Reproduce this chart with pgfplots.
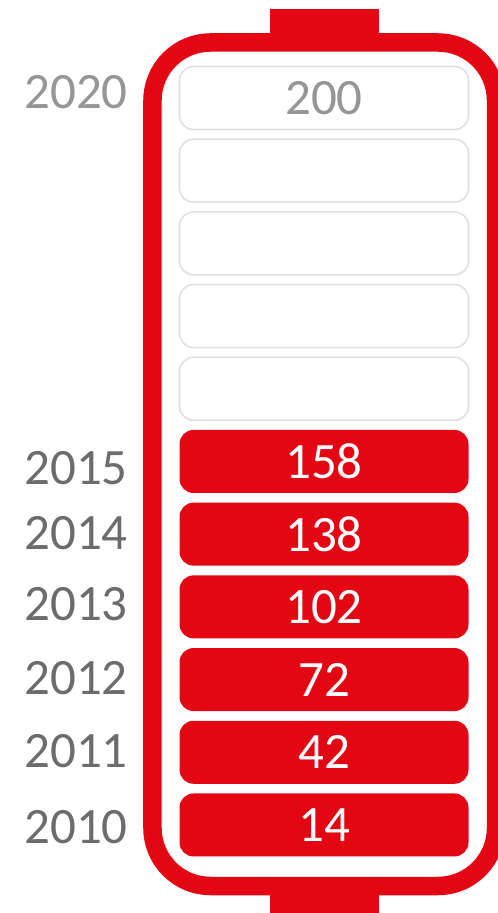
\documentclass[border=0pt]{standalone}
\usepackage{pgfplots}
\usepackage{pgfplotstable}
\pgfplotsset{compat=1.18}
\usepackage{fontspec}
\setmainfont{Carlito}
\definecolor{battred}{RGB}{227,6,19}
\definecolor{yeargray}{RGB}{108,108,108}
\definecolor{lightgrey}{RGB}{150,150,150}
\definecolor{cellborder}{RGB}{224,224,224}

\pgfplotstableread{
year x label
2010 324 14
2011 324 42
2012 324 72
2013 324 102
2014 324 138
2015 324 158
}\redcells

\pgfplotstableread{
year x label
2016 324 {}
2017 324 {}
2018 324 {}
2019 324 {}
2020 324 200
}\whitecells

\begin{document}
\begin{tikzpicture}
\path[use as bounding box] (0,0) rectangle (498bp,913bp);
\begin{axis}[
  at={(0,0)}, anchor=south west,
  scale only axis, width=498bp, height=913bp,
  xmin=0, xmax=498, ymin=2008.789, ymax=2021.348,
  hide x axis,
  axis y line*=left,
  y axis line style={draw=none},
  ytick style={draw=none},
  major tick length=0pt,
  ytick={2009.966,2011.018,2012.015,2013.040,2014.010,2014.904,2020.077},
  yticklabels={2010,2011,2012,2013,2014,2015,\textcolor{lightgrey}{2020}},
  yticklabel style={anchor=center, xshift=76bp, inner sep=0pt,
    font=\fontsize{51bp}{51bp}\selectfont, text=yeargray},
  clip=false,
  point meta=explicit symbolic,
]
% battery outline (decoration)
\draw[battred, line width=18.5bp, rounded corners=58bp]
  (rel axis cs:0.3062,0.95345) rectangle (rel axis cs:0.9960,0.02957);
\fill[battred] (rel axis cs:0.5422,0.99014) rectangle (rel axis cs:0.7610,0.95);
\fill[battred] (rel axis cs:0.5422,0) rectangle (rel axis cs:0.7610,0.035);

\addplot[only marks, mark=none,
  nodes near coords,
  every node near coord/.style={anchor=center, inner sep=0pt,
    minimum width=289bp, minimum height=63bp, rounded corners=14bp,
    fill=battred, text=white, font=\fontsize{51bp}{51bp}\selectfont}]
  table[x=x, y=year, meta=label] {\redcells};

\addplot[only marks, mark=none,
  nodes near coords,
  every node near coord/.style={anchor=center, inner sep=0pt,
    minimum width=289bp, minimum height=63bp, rounded corners=14bp,
    draw=cellborder, line width=1.6bp, fill=white, text=lightgrey,
    font=\fontsize{51bp}{51bp}\selectfont}]
  table[x=x, y=year, meta=label] {\whitecells};
\end{axis}
\end{tikzpicture}
\end{document}
